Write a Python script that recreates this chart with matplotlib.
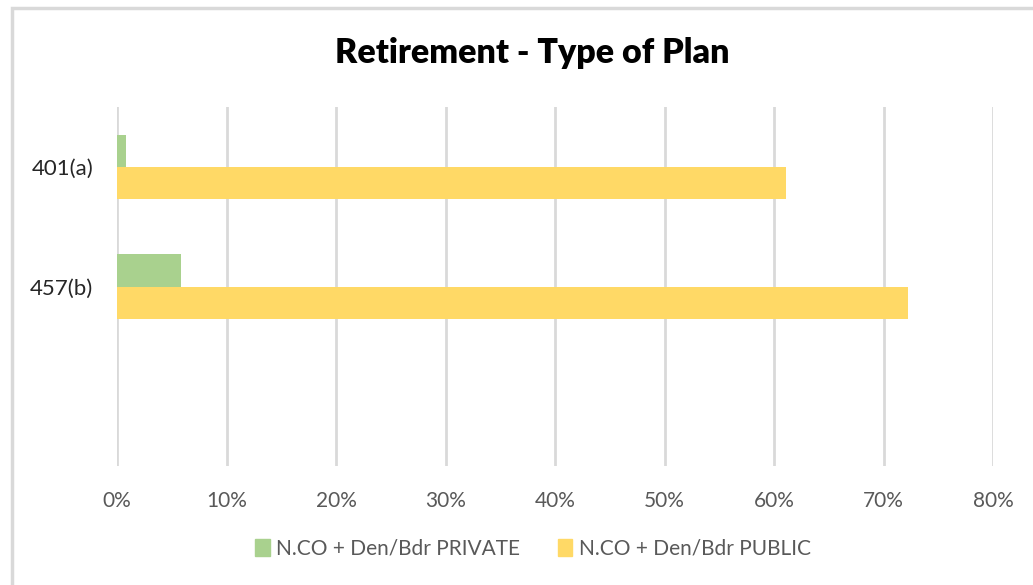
import matplotlib
matplotlib.use("Agg")
import matplotlib.pyplot as plt
from matplotlib.patches import Rectangle, Patch
from matplotlib.ticker import PercentFormatter

# plan types, bottom slot is left blank
categories = ["", "457(b)", "401(a)"]
private_pct = [0.0, 5.8, 0.8]
public_pct = [0.0, 72.2, 61.1]
series_names = ["N.CO + Den/Bdr PRIVATE", "N.CO + Den/Bdr PUBLIC"]

green = "#A9D18E"
yellow = "#FFD966"
grey_text = "#595959"
grid_col = "#D9D9D9"

plt.rcParams["font.family"] = ["Lato", "DejaVu Sans"]

fig = plt.figure(figsize=(10.33, 5.85), dpi=100)
ax = fig.add_axes([0.1133, 0.2034, 0.848, 0.6137])

# outer chart frame
fig.patches.append(Rectangle((12 / 1033, -0.05), 1.2, 1 - 8 / 585 + 0.05,
                             transform=fig.transFigure, fill=False,
                             edgecolor=grid_col, linewidth=2.5))

pos = range(len(categories))
h = 0.27
ax.barh([p + h / 2 for p in pos], private_pct, height=h, color=green)
ax.barh([p - h / 2 for p in pos], public_pct, height=h, color=yellow)

ax.set_xlim(0, 80)
ax.set_ylim(-0.5, 2.5)
ax.set_xticks(range(0, 81, 10))
ax.xaxis.set_major_formatter(PercentFormatter(decimals=0))
ax.set_yticks(list(pos))
ax.set_yticklabels(categories)

ax.grid(axis="x", color=grid_col, linewidth=2)
ax.set_axisbelow(True)
for s in ax.spines.values():
    s.set_visible(False)
ax.tick_params(axis="both", length=0, labelsize=15, colors=grey_text)
ax.tick_params(axis="x", pad=18)
ax.tick_params(axis="y", pad=17, labelsize=16, labelcolor="#262626")

fig.text(0.515, 0.91, "Retirement - Type of Plan", ha="center", va="center",
         fontsize=24.5, fontweight="heavy", color="black")

handles = [Patch(color=green), Patch(color=yellow)]
fig.legend(handles, series_names, loc="center", bbox_to_anchor=(0.516, 0.062),
           ncol=2, frameon=False, fontsize=15, labelcolor=grey_text,
           handlelength=0.7, handleheight=0.9, handletextpad=0.3,
           columnspacing=1.8)

fig.savefig("out.png", dpi=100)
